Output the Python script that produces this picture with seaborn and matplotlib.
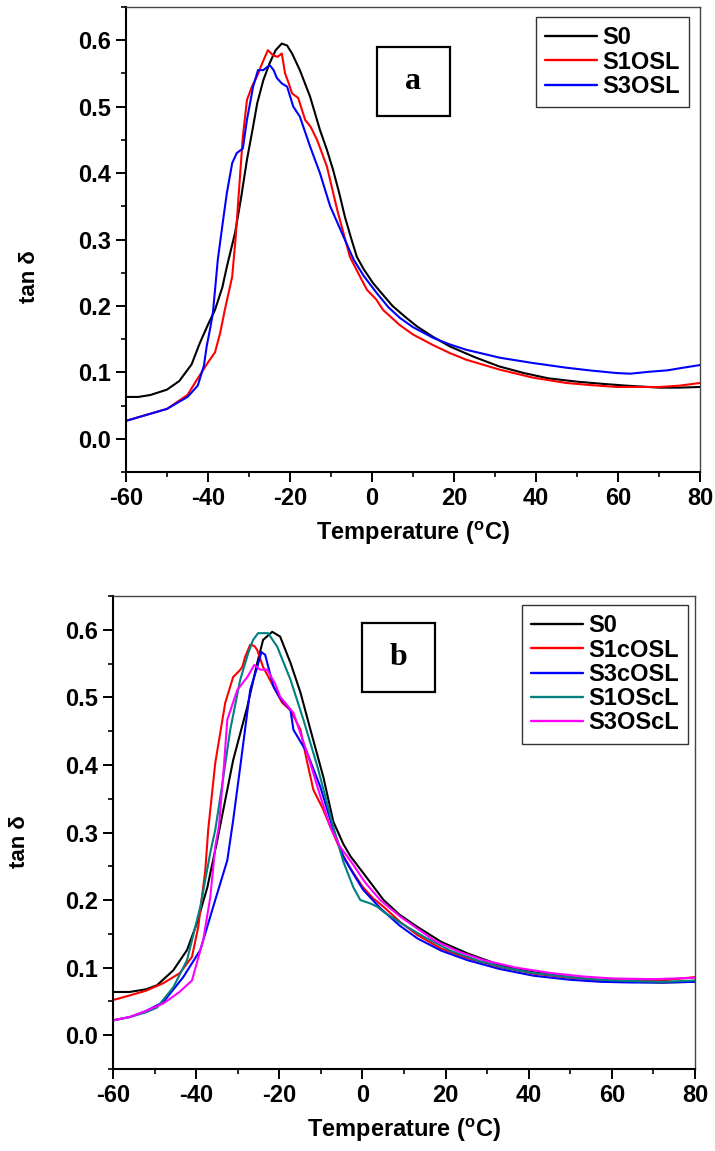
import matplotlib
matplotlib.use("Agg")
import matplotlib.pyplot as plt
from matplotlib.ticker import AutoMinorLocator
from matplotlib.patches import Rectangle
import seaborn as sns
import pandas as pd

# ---------------- panel (a) ----------------
a_S0_T = [-60, -57, -54, -50, -47, -44, -42, -40, -38.3, -36.5, -35.4, -33.4, -32, -30.5, -29, -28,
          -26.5, -25, -23.5, -22, -20.7, -19.5, -17.6, -15.1, -12.7, -11, -9.5, -8, -6.6, -5, -3.7,
          -2, 0.3, 2.5, 5, 8, 11, 15, 19, 25, 31, 37, 43, 50, 55.6, 62, 70, 75, 80]
a_S0_v = [.063, .063, .066, .074, .087, .112, .144, .172, .194, .228, .259, .31, .36, .42, .47, .505,
          .54, .565, .585, .595, .592, .580, .555, .515, .465, .435, .405, .37, .334, .300, .274,
          .255, .234, .218, .200, .184, .169, .153, .139, .123, .109, .099, .091, .086, .083, .080,
          .077, .077, .078]

a_S1OSL_T = [-60, -55, -50, -45, -42.7, -40, -38.3, -37, -35.9, -34.1, -33.3, -32.6, -31.5, -30.5,
             -29.3, -28.1, -26.8, -25.4, -24.1, -23, -22, -21.2, -20.3, -19.5, -18, -16.3, -15,
             -13.4, -11, -8.5, -5.4, -3, -1.2, 1, 2.7, 6.8, 10, 14.9, 19, 23, 31.2, 39.3, 47.4,
             53, 59.6, 65, 70.2, 75, 80]
a_S1OSL_v = [.027, .036, .045, .066, .089, .115, .13, .16, .194, .244, .30, .36, .455, .51, .53,
             .545, .565, .585, .577, .575, .58, .55, .535, .52, .513, .48, .47, .45, .41, .345,
             .274, .245, .224, .21, .194, .171, .157, .141, .129, .119, .104, .092, .084, .081,
             .078, .078, .078, .080, .084]

a_S3OSL_T = [-60, -55, -50, -45, -42.5, -41, -40.3, -39.5, -38.8, -37.6, -36.3, -35.4, -34.1, -33,
             -31.5, -30.5, -29, -27.8, -26.5, -25.5, -24.9, -24, -23.2, -22, -20.7, -19.2, -17.6,
             -15.1, -12.7, -10.2, -7, -4.5, -2, 1.2, 4, 6.8, 10, 14.9, 19, 23, 31.2, 39.3, 47.4,
             53, 59.6, 63, 67.8, 72, 75.9, 80]
a_S3OSL_v = [.027, .036, .045, .063, .080, .11, .14, .165, .19, .27, .33, .37, .415, .43, .437,
             .48, .53, .555, .555, .56, .562, .555, .543, .535, .53, .50, .485, .44, .40, .35,
             .305, .27, .245, .219, .198, .182, .168, .152, .142, .134, .122, .114, .107, .103,
             .099, .098, .101, .103, .107, .111]

# ---------------- panel (b) ----------------
b_S0_T = [-60, -56, -52, -49.4, -45.5, -42.2, -39.8, -37.3, -34.9, -31.1, -27.7, -25.3, -23.9,
          -21.7, -19.8, -17.3, -14.9, -12.5, -9.4, -7, -4.6, -2.9, 0.2, 5.1, 9, 13.3, 19, 25.3,
          33, 41.2, 50, 57.3, 65, 72, 80]
b_S0_v = [.064, .064, .068, .074, .096, .126, .166, .219, .289, .407, .486, .551, .585, .597, .59,
          .551, .507, .452, .382, .316, .283, .265, .24, .2, .178, .16, .138, .121, .104, .093,
          .086, .081, .079, .078, .079]

b_S1cOSL_T = [-60, -55.9, -52, -47.9, -43.9, -41, -39.5, -37.8, -37.1, -35.4, -34, -33, -31.1,
              -29.5, -28.9, -28.2, -27, -26, -25.3, -23.9, -21.4, -19.3, -17.3, -14.9, -13.5,
              -11.8, -9.5, -7.7, -5, -2.9, 0, 2.5, 5.1, 9, 13.3, 19, 25.3, 33, 41.2, 50, 57.3,
              65, 72, 80]
b_S1cOSL_v = [.052, .059, .066, .077, .092, .116, .16, .244, .304, .403, .455, .492, .53, .54,
              .545, .56, .578, .576, .57, .545, .516, .492, .481, .452, .41, .363, .335, .308,
              .27, .247, .22, .203, .19, .168, .148, .128, .114, .101, .091, .085, .082, .081,
              .081, .086]

b_S3cOSL_T = [-60, -55.9, -52, -47.9, -43.1, -39, -35.9, -32.5, -31.1, -29.4, -27, -25.3, -24.3,
              -23.4, -21.4, -19.8, -17.3, -16.6, -13.3, -10.1, -7, -4.6, -2, 0.2, 4.3, 9, 13.3,
              19, 25.3, 33, 41.2, 50, 57.3, 65, 72, 80]
b_S3cOSL_v = [.022, .027, .036, .049, .086, .126, .19, .259, .318, .397, .511, .545, .567, .563,
              .516, .499, .481, .452, .418, .367, .304, .264, .237, .215, .188, .162, .143, .125,
              .111, .098, .088, .082, .079, .078, .078, .079]

b_S1OScL_T = [-60, -55.9, -52, -49.4, -45.5, -42.2, -39, -36.6, -35.4, -33.5, -31.8, -29.4, -27.5,
              -26.3, -25.1, -22.7, -20.5, -17.3, -14.2, -10.8, -7, -4.6, -2.2, -0.5, 1.9, 3.6, 5,
              9.2, 15, 21.2, 28, 35, 41.2, 50, 57.3, 65, 72, 80]
b_S1OScL_v = [.022, .027, .034, .041, .071, .111, .19, .27, .304, .38, .452, .526, .565, .585,
              .595, .595, .575, .526, .467, .397, .308, .257, .219, .200, .195, .19, .183, .166,
              .145, .125, .11, .099, .092, .086, .082, .080, .079, .081]

b_S3OScL_T = [-60, -55.9, -52, -47.9, -44, -41, -38.3, -36.6, -35.4, -34.5, -33.3, -32.5, -30.1,
              -27.7, -26, -24.6, -22.9, -21, -19.8, -16.6, -13.3, -10.1, -7.7, -5.4, -2.5, 0.2,
              1.2, 4.3, 9.2, 17.1, 23, 29.2, 37, 45.3, 53, 60, 70, 80]
b_S3OScL_v = [.022, .027, .036, .047, .064, .081, .141, .204, .279, .31, .40, .467, .511, .53,
              .548, .541, .541, .52, .501, .477, .418, .353, .308, .279, .255, .23, .222, .2,
              .175, .141, .124, .111, .1, .092, .087, .084, .083, .085]

x_ticks = [-60, -40, -20, 0, 20, 40, 60, 80]
y_ticks = [0.0, 0.1, 0.2, 0.3, 0.4, 0.5, 0.6]

panel_a = {"S0": (a_S0_T, a_S0_v), "S1OSL": (a_S1OSL_T, a_S1OSL_v), "S3OSL": (a_S3OSL_T, a_S3OSL_v)}
panel_b = {"S0": (b_S0_T, b_S0_v), "S1cOSL": (b_S1cOSL_T, b_S1cOSL_v),
           "S3cOSL": (b_S3cOSL_T, b_S3cOSL_v), "S1OScL": (b_S1OScL_T, b_S1OScL_v),
           "S3OScL": (b_S3OScL_T, b_S3OScL_v)}
colors_a = ["#000000", "#ff0000", "#0000ff"]
colors_b = ["#000000", "#ff0000", "#0000ff", "#008080", "#ff00ff"]

sns.set_theme(style="ticks")
plt.rcParams["font.family"] = ["Liberation Sans", "DejaVu Sans"]
plt.rcParams["mathtext.fontset"] = "custom"
plt.rcParams["mathtext.rm"] = "Liberation Sans"
plt.rcParams["mathtext.bf"] = "Liberation Sans:bold"
plt.rcParams["axes.unicode_minus"] = False
plt.rcParams["text.color"] = "black"
plt.rcParams["axes.labelcolor"] = "black"
plt.rcParams["xtick.color"] = "black"
plt.rcParams["ytick.color"] = "black"

W, H = 715, 1151
fig = plt.figure(figsize=(W / 100, H / 100), dpi=100)


def px_rect(l, t, r, b):
    return [l / W, 1 - b / H, (r - l) / W, (b - t) / H]


def to_frame(series):
    frames = [pd.DataFrame({"T": t, "tan": v, "sample": name}) for name, (t, v) in series.items()]
    return pd.concat(frames, ignore_index=True)


def draw_panel(rect, series, colors, letter, letter_box, legend_anchor, ylabel_pos):
    ax = fig.add_axes(px_rect(*rect))
    df = to_frame(series)
    names = list(series.keys())
    sns.lineplot(data=df, x="T", y="tan", hue="sample", hue_order=names,
                 palette=colors, sort=False, estimator=None, lw=1.5,
                 legend=False, ax=ax)
    ax.set_xlim(-60, 80)
    ax.set_ylim(-0.05, 0.65)
    ax.set_xticks(x_ticks)
    ax.set_yticks(y_ticks)
    ax.set_yticklabels([f"{y:.1f}" for y in y_ticks])
    ax.xaxis.set_minor_locator(AutoMinorLocator(2))
    ax.yaxis.set_minor_locator(AutoMinorLocator(2))
    ax.tick_params(which="major", direction="out", length=7, width=1.4, pad=4,
                   labelsize=17, top=False, right=False, colors="black")
    ax.tick_params(which="minor", direction="out", length=3.5, width=1.2,
                   top=False, right=False, colors="black")
    for lab in ax.get_xticklabels() + ax.get_yticklabels():
        lab.set_fontweight("bold")
    for side in ("left", "bottom"):
        ax.spines[side].set_linewidth(1.5)
        ax.spines[side].set_color("black")
    for side in ("top", "right"):
        ax.spines[side].set_visible(True)
        ax.spines[side].set_linewidth(1.0)
        ax.spines[side].set_color("#444444")
    ax.set_xlabel(r"Temperature ($^{\mathbf{o}}$C)", fontsize=17, fontweight="bold", labelpad=6)
    ax.set_ylabel("tan δ", fontsize=16, fontweight="bold")
    ax.yaxis.set_label_coords(ylabel_pos[0], ylabel_pos[1])

    leg = ax.legend(ax.get_lines()[:len(names)], names, loc="upper right",
                    bbox_to_anchor=(legend_anchor[0] / W, 1 - legend_anchor[1] / H),
                    bbox_transform=fig.transFigure, borderaxespad=0,
                    prop={"weight": "bold", "size": 17}, frameon=True, fancybox=False,
                    handlelength=2.2, handletextpad=0.2, labelspacing=0.05,
                    borderpad=0.4)
    leg.get_frame().set_edgecolor("black")
    leg.get_frame().set_linewidth(1.0)
    for line in leg.get_lines():
        line.set_linewidth(1.7)

    l, t, r, b = letter_box
    box = Rectangle((l / W, 1 - b / H), (r - l) / W, (b - t) / H, transform=fig.transFigure,
                    fill=False, edgecolor="black", linewidth=1.6)
    fig.add_artist(box)
    fig.text((l + r) / 2 / W, 1 - (t + b) / 2 / H, letter, ha="center", va="center",
             fontsize=23, fontweight="bold", family="Liberation Serif")
    return ax


draw_panel((126, 7, 700, 472), panel_a, colors_a, "a", (377, 47, 450, 116), (689, 17), (-0.15, 0.42))
draw_panel((113, 596, 695, 1069), panel_b, colors_b, "b", (362, 623, 435, 692), (688, 605), (-0.143, 0.48))

fig.savefig("out.png", dpi=100)
